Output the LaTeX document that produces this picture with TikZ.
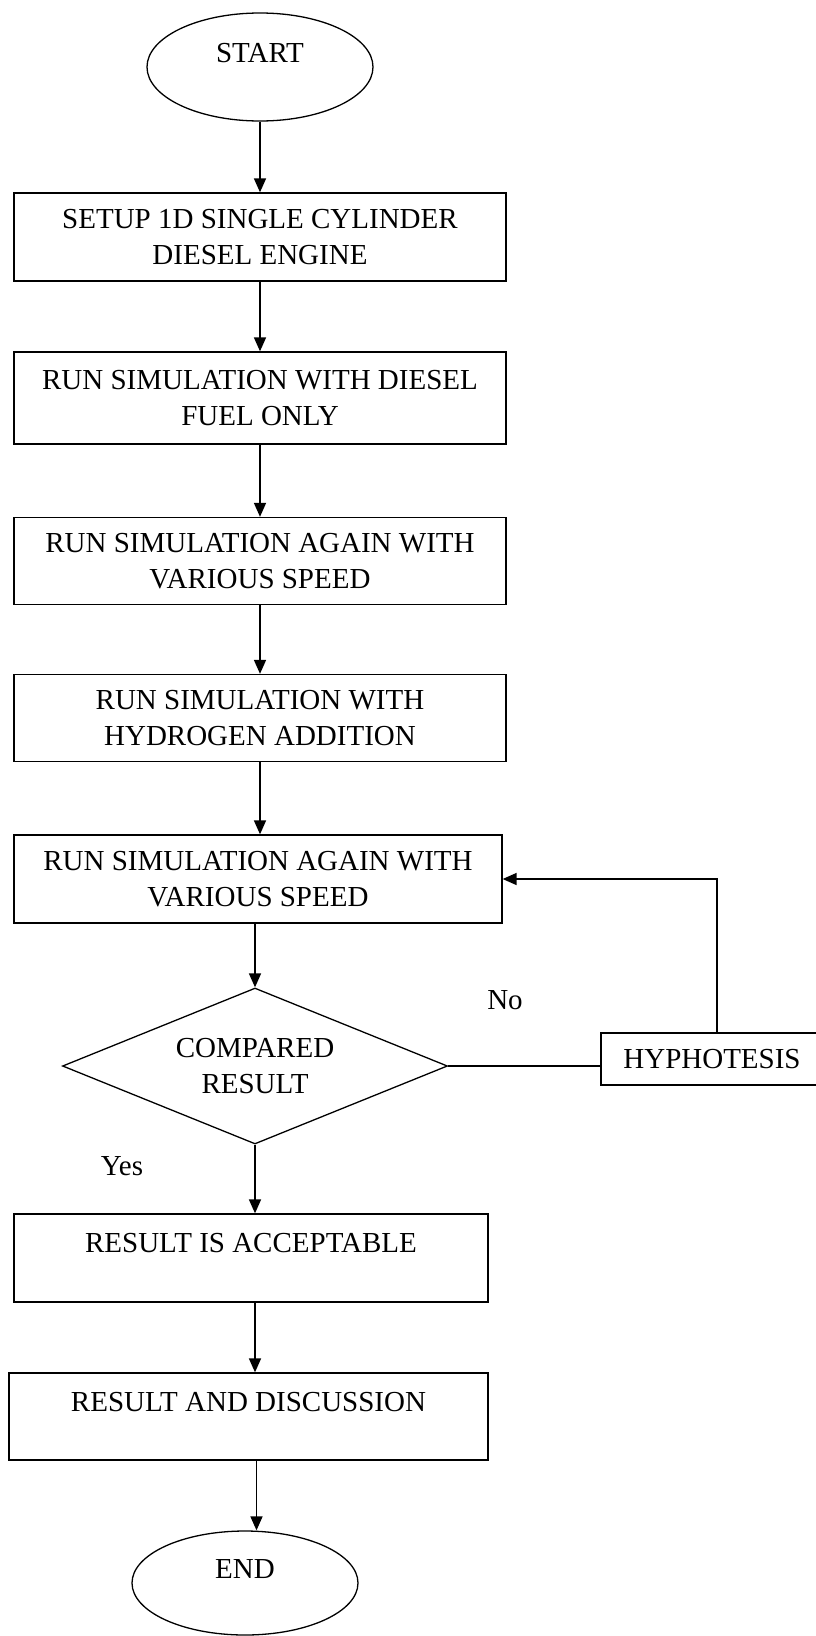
\documentclass[tikz,border=0pt]{standalone}
\usepackage{fontspec}
\setmainfont{Liberation Serif}
\usetikzlibrary{arrows.meta,positioning,shapes}

\begin{document}
\begin{tikzpicture}[x=1pt,y=1pt,line width=1.3pt,
every node/.style={font=\fontsize{29}{36}\selectfont},
term node/.style={ellipse,draw,minimum width=226pt,minimum height=108pt,inner sep=0pt,text height=20pt,text depth=29pt},
proc node/.style={rectangle,draw,minimum width=492pt,minimum height=88pt,inner sep=0pt,align=center},
top node/.style={proc node,text height=20pt,text depth=31pt},
dec node/.style={diamond,draw,shape aspect=2.47,minimum width=385pt,minimum height=156pt,inner sep=0pt,align=center},
arr/.style={-{Triangle[length=14pt,width=12pt]},line width=1.6pt}]
\useasboundingbox (0,0) rectangle (816,-1636);
\begin{scope}
\node[term node] (start) at (260,-67) {START};
\node[proc node] (r1) at (260,-237) {SETUP 1D SINGLE CYLINDER\\DIESEL ENGINE};
\node[proc node,minimum height=92pt] (r2) at (260,-398) {RUN SIMULATION WITH DIESEL\\FUEL ONLY};
\node[proc node,minimum height=87pt] (r3) at (260,-561) {RUN SIMULATION AGAIN WITH\\VARIOUS SPEED};
\node[proc node,minimum height=87pt] (r4) at (260,-718) {RUN SIMULATION WITH\\HYDROGEN ADDITION};
\node[proc node,minimum width=488pt] (r5) at (258,-879) {RUN SIMULATION AGAIN WITH\\VARIOUS SPEED};
\node[dec node] (cmp) at (255,-1066) {COMPARED\\RESULT};
\node[proc node,minimum width=222pt,minimum height=52pt] (hyp) at (712,-1059) {HYPHOTESIS};
\node[top node,minimum width=474pt] (r6) at (251,-1258) {RESULT IS ACCEPTABLE};
\node[top node,minimum width=479pt,minimum height=87pt] (r7) at (248.5,-1416.5) {RESULT AND DISCUSSION};
\node[term node,minimum height=104pt] (stop) at (245,-1583) {END};
\node (no) at (505,-1000) {No};
\node (yes) at (122,-1166) {Yes};
\end{scope}
\begin{scope}
\draw[arr] (start) -- (start |- r1.north);
\draw[arr] (r1) -- (r2);
\draw[arr] (r2) -- (r3);
\draw[arr] (r3) -- (r4);
\draw[arr] (r4) -- (r4 |- r5.north);
\draw[arr] (cmp.north |- r5.south) -- (cmp.north);
\draw[arr] (cmp.south) -- (cmp.south |- r6.north);
\draw[arr] ([xshift=4pt]r6.south) -- ([xshift=4pt]r6.south |- r7.north);
\draw[arr] ([xshift=8pt]r7.south) -- ([xshift=8pt]r7.south |- stop.north);
\draw (cmp.east) -- (cmp.east -| hyp.west);
\draw[arr] ([xshift=5pt]hyp.north) |- (r5.east);
\end{scope}
\end{tikzpicture}
\end{document}
